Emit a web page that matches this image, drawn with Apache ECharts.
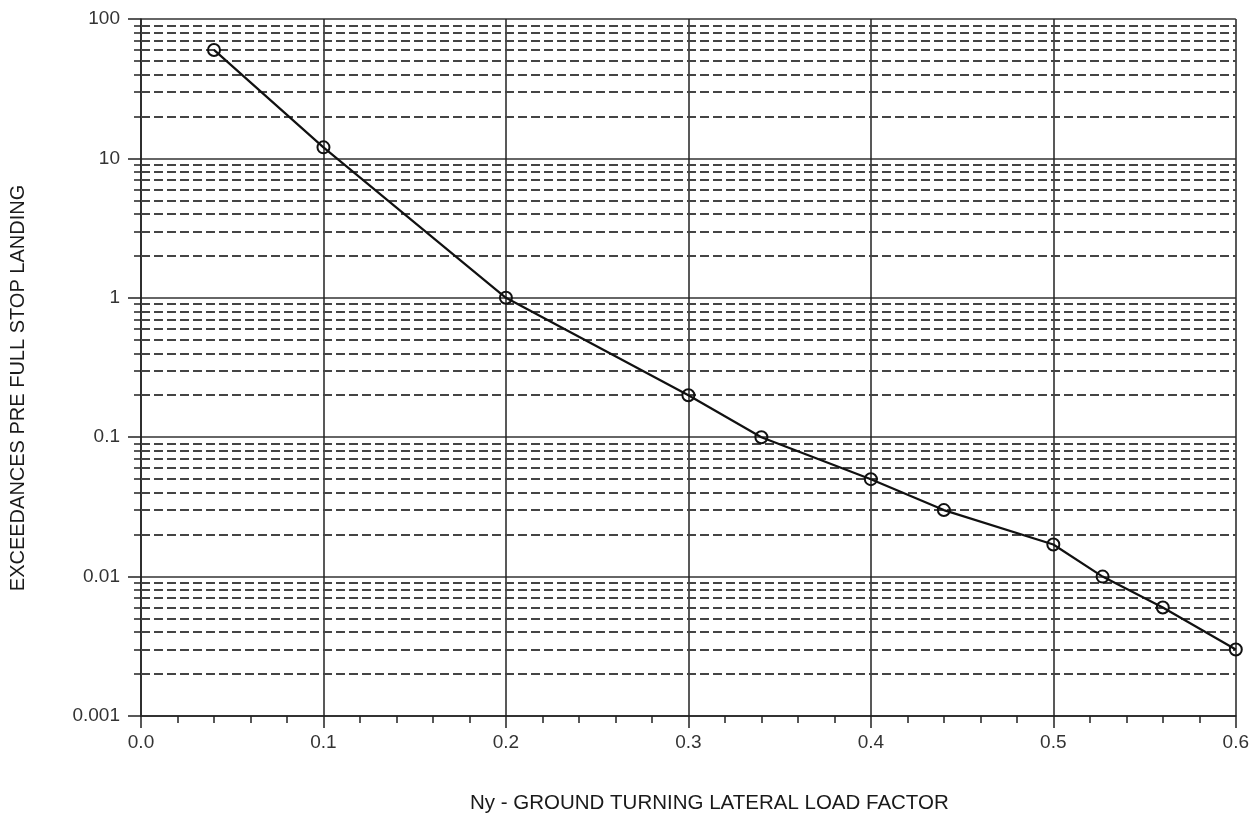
<!DOCTYPE html>
<html>
<head>
<meta charset="utf-8">
<script src="https://cdn.jsdelivr.net/npm/echarts@6/dist/echarts.min.js"></script>
<style>
html,body{margin:0;padding:0;background:#fff;}
#chart{width:1252px;height:814px;}
</style>
</head>
<body>
<div id="chart"></div>
<script>
// Data
const xValues = [0.04, 0.1, 0.2, 0.3, 0.34, 0.4, 0.44, 0.5, 0.527, 0.56, 0.6];
const yValues = [60, 12, 1, 0.2, 0.1, 0.05, 0.03, 0.017, 0.01, 0.006, 0.003];
const xTickLabels = ['0.0', '0.1', '0.2', '0.3', '0.4', '0.5', '0.6'];
const yTickLabels = ['0.001', '0.01', '0.1', '1', '10', '100'];
const yDecades = [0.001, 0.01, 0.1, 1, 10];
const minorMultipliers = [2, 3, 4, 5, 6, 7, 8, 9];
const xTitle = 'N\u0443 - GROUND TURNING LATERAL LOAD FACTOR';
const yTitle = 'EXCEEDANCES PRE FULL STOP LANDING';

const yMinor = [];
yDecades.forEach(d => minorMultipliers.forEach(m => yMinor.push(+(d * m).toPrecision(3))));

const font = 'Liberation Sans, Arial, sans-serif';
const chart = echarts.init(document.getElementById('chart'));
chart.setOption({
  animation: false,
  backgroundColor: '#fff',
  grid: { left: 141, right: 16, top: 19, bottom: 98 },
  xAxis: {
    type: 'value', min: 0, max: 0.6, interval: 0.1,
    axisLine: { show: true, lineStyle: { color: '#222', width: 1.5 } },
    axisTick: { show: true, inside: false, length: 12, lineStyle: { color: '#222', width: 1.5 } },
    minorTick: { show: true, splitNumber: 5, length: 7, lineStyle: { color: '#222', width: 1.5 } },
    axisLabel: {
      fontFamily: font, fontSize: 19, color: '#333', margin: 17,
      formatter: (v) => xTickLabels[Math.round(v * 10)]
    },
    splitLine: { show: true, lineStyle: { color: '#222', width: 1.5, type: 'solid' } }
  },
  yAxis: [{
    type: 'log', logBase: 10, min: 0.001, max: 100, splitNumber: 5,
    axisLine: { show: true, onZero: false, lineStyle: { color: '#222', width: 1.5 } },
    axisTick: { show: true, inside: false, length: 13, lineStyle: { color: '#222', width: 1.5 } },
    axisLabel: {
      fontFamily: font, fontSize: 19, color: '#333', margin: 21,
      formatter: (v) => yTickLabels[Math.round(Math.log10(v)) + 3]
    },
    splitLine: { show: true, lineStyle: { color: '#333', width: 1.5, type: 'solid' } }
  }, {
    type: 'log', logBase: 10, min: 0.001, max: 100, position: 'left', offset: 0,
    axisLine: { show: false },
    axisTick: { show: true, inside: false, length: 7, customValues: yMinor, lineStyle: { color: '#222', width: 1.5 } },
    axisLabel: { show: false, customValues: yMinor },
    splitLine: { show: false }
  }],
  graphic: [{
    type: 'text', x: 18, y: 388, rotation: Math.PI / 2,
    style: { text: yTitle, fontFamily: font, fontSize: 20, fill: '#1a1a1a', textAlign: 'center', textVerticalAlign: 'middle' }
  }, {
    type: 'text', x: 470, y: 803,
    style: { text: xTitle, fontFamily: font, fontSize: 20.5, fill: '#1a1a1a', textAlign: 'left', textVerticalAlign: 'middle' }
  }],
  series: [{
    type: 'line', yAxisIndex: 0, data: [], silent: true,
    markLine: {
      silent: true, symbol: 'none', animation: false, precision: 8,
      label: { show: false },
      lineStyle: { color: '#444', width: 2, type: [9, 4] },
      data: yMinor.map(v => ({ yAxis: v }))
    }
  }, {
    type: 'line', yAxisIndex: 0,
    data: xValues.map((x, i) => [x, yValues[i]]),
    symbol: 'circle', symbolSize: 12, showSymbol: true,
    itemStyle: { color: 'rgba(255,255,255,0)', borderColor: '#111', borderWidth: 2 },
    lineStyle: { color: '#111', width: 2.2 },
    z: 5
  }]
});
</script>
</body>
</html>
